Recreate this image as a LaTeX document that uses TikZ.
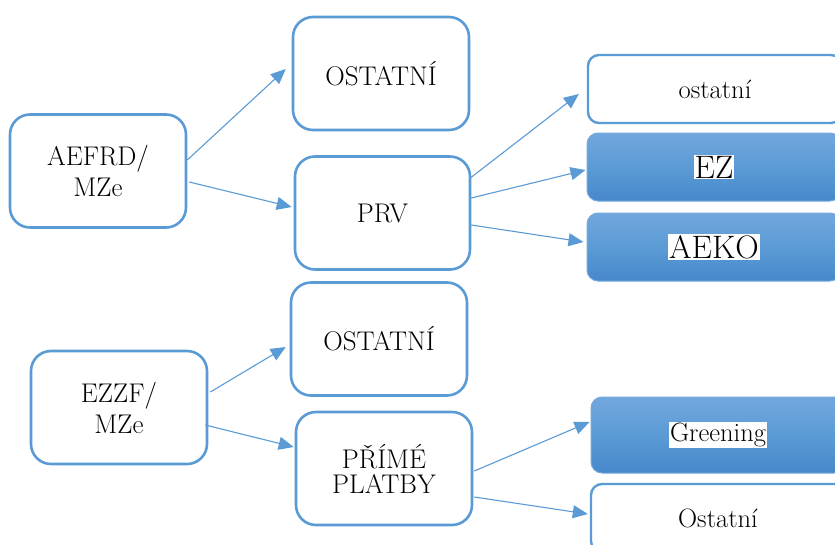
\documentclass[tikz,border=0pt]{standalone}
\usepackage{fontspec}
\usetikzlibrary{arrows.meta,calc}
\definecolor{bl}{RGB}{91,155,213}
\definecolor{bltop}{RGB}{114,167,221}
\definecolor{blbot}{RGB}{70,136,203}
\begin{document}
\begin{tikzpicture}[x=1pt,y=-1pt,
  bigbox/.style={draw=bl,line width=2.6pt,rounded corners=20pt,fill=white,
    minimum width=176pt,minimum height=113pt,align=center,
    font=\fontsize{27}{31}\selectfont},
  flatbox/.style={draw=bl,line width=2.4pt,rounded corners=11pt,fill=white,
    minimum width=254pt,minimum height=68pt,
    font=\fontsize{26.5}{30}\selectfont},
  filledbox/.style={draw=bl!85,line width=1pt,rounded corners=11pt,
    top color=bltop,bottom color=blbot,middle color=bl,
    minimum width=254pt,minimum height=68pt},
  lbl/.style={fill=white,inner sep=1pt},
  conn/.style={draw=bl,line width=1.1pt,-{Triangle[length=15pt,width=13pt]}}]
\useasboundingbox (0,0) rectangle (835,544);
\clip (0,0) rectangle (835,544);
\fill[white] (0,0) rectangle (835,544);

% left column
\node[bigbox] (aefrd) at (98,171) {AEFRD/\\MZe};
\node[bigbox] (ezzf) at (119,407.5) {EZZF/\\MZe};

% middle column
\node[bigbox] (ost1) at (381,73.5) {OSTATNÍ};
\node[bigbox,minimum width=175pt] (prv) at (382.5,213) {PRV};
\node[bigbox,font=\fontsize{27}{25}\selectfont] (pp) at (384,468.5) {PŘÍMÉ\\PLATBY};
\node[bigbox] (ost2) at (379,339) {OSTATNÍ};

% right column
\node[flatbox] (ost3) at (715,89) {ostatní};
\node[filledbox] (ez) at (714,167) {};
\node[lbl,font=\fontsize{32.5}{36}\selectfont] (ezt) at (ez.center) {EZ};
\node[filledbox] (aeko) at (714,247) {};
\node[lbl,font=\fontsize{32.5}{36}\selectfont] (aekot) at (aeko.center) {AEKO};
\node[filledbox,minimum height=76pt] (green) at (718,435) {};
\node[lbl,font=\fontsize{26.5}{30}\selectfont] (greent) at (green.center) {Greening};
\node[flatbox] (ost4) at (718,518) {Ostatní};

% connectors
\draw[conn] ([yshift=11pt]aefrd.east) -- ([xshift=-6pt,yshift=4.5pt]ost1.west);
\draw[conn] ([xshift=2pt,yshift=-11pt]aefrd.east) -- ([xshift=-2pt,yshift=6pt]prv.west);
\draw[conn] ([xshift=-1pt,yshift=35pt]prv.east) -- ([xshift=-8pt,yshift=-5pt]ost3.west);
\draw[conn] ([yshift=15pt]prv.east) -- ([xshift=-1pt,yshift=-3pt]ez.west);
\draw[conn] ([yshift=-12pt]prv.east) -- ([xshift=-3pt,yshift=5pt]aeko.west);
\draw[conn] ([xshift=2pt,yshift=15.5pt]ezzf.east) -- ([xshift=-4pt,yshift=-8pt]ost2.west);
\draw[conn] ([xshift=-3pt,yshift=-17.5pt]ezzf.east) -- ([xshift=-1pt,yshift=21.5pt]pp.west);
\draw[conn] ([xshift=1pt,yshift=-2.5pt]pp.east) -- ([xshift=-1pt,yshift=13pt]green.west);
\draw[conn] ([xshift=1pt,yshift=-28.5pt]pp.east) -- ([xshift=-2pt,yshift=4pt]ost4.west);
\end{tikzpicture}
\end{document}
